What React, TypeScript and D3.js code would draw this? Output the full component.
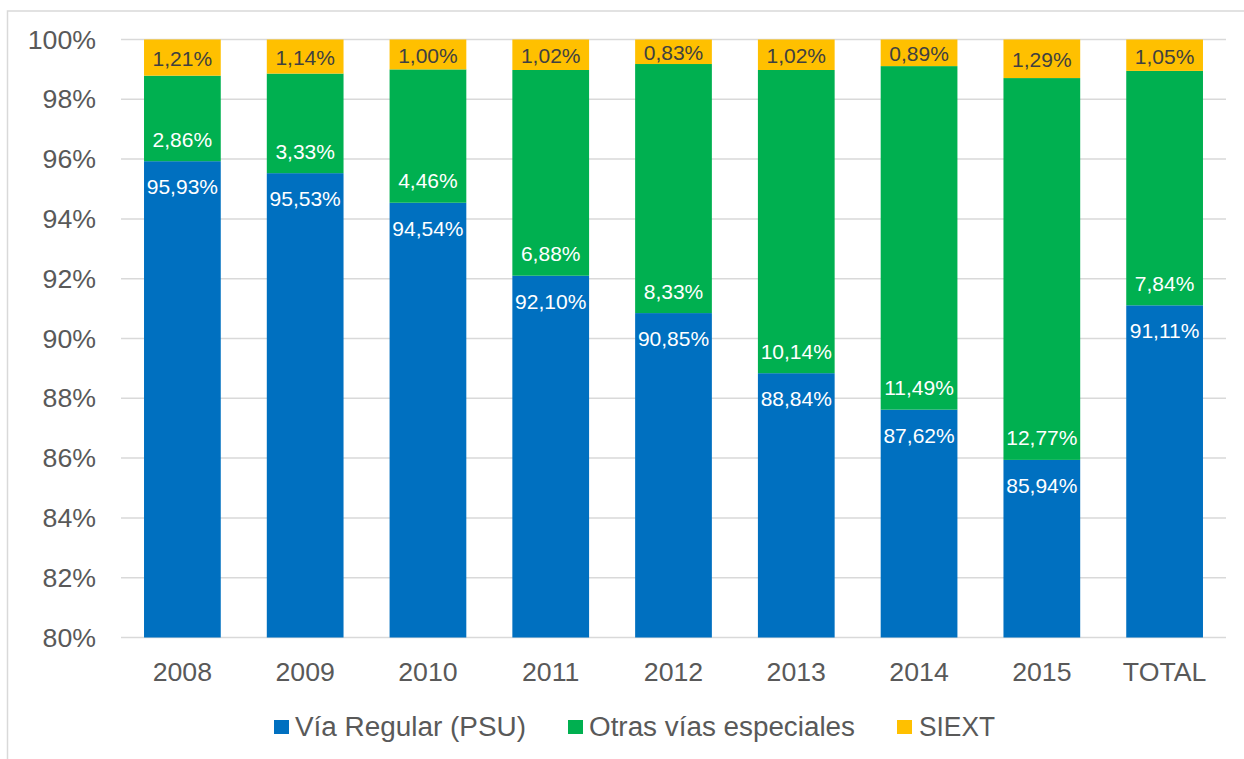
import React from "react";
import * as d3 from "d3";

const categories = ["2008", "2009", "2010", "2011", "2012", "2013", "2014", "2015", "TOTAL"];
const viaRegular = [95.93, 95.53, 94.54, 92.10, 90.85, 88.84, 87.62, 85.94, 91.11];
const otrasVias = [2.86, 3.33, 4.46, 6.88, 8.33, 10.14, 11.49, 12.77, 7.84];
const siext = [1.21, 1.14, 1.00, 1.02, 0.83, 1.02, 0.89, 1.29, 1.05];
const yTicks = [80, 82, 84, 86, 88, 90, 92, 94, 96, 98, 100];
const seriesNames = ["Vía Regular (PSU)", "Otras vías especiales", "SIEXT"];
const seriesColors = ["#0070C0", "#00B050", "#FFC000"];

const W = 1244;
const H = 759;
const FONT = "'Liberation Sans', Arial, sans-serif";
const fmt = (v: number) => v.toFixed(2).replace(".", ",") + "%";

export default function App() {
  const x = d3.scaleBand<string>().domain(categories).range([121, 1226]).paddingInner(0.375).paddingOuter(0.1875);
  const y = d3.scaleLinear().domain([80, 100]).range([637.5, 39.5]);
  const bw = x.bandwidth();

  const legendItems = [
    { sq: 274, tx: 295, w: 231 },
    { sq: 568, tx: 589, w: 266 },
    { sq: 897, tx: 919, w: 76 },
  ];

  return (
    <svg width={W} height={H} style={{ position: "absolute", left: 0, top: 0, background: "#fff" }} fontFamily={FONT}>
      <rect x={7.5} y={11} width={W + 20} height={H + 20} fill="#fff" stroke="#d9d9d9" strokeWidth={1.5} />
      {yTicks.map((t) => (
        <g key={t}>
          <line x1={121} x2={1226} y1={y(t)} y2={y(t)} stroke="#d9d9d9" strokeWidth={1.5} />
          <text x={96} y={y(t)} textAnchor="end" dominantBaseline="central" fontSize={26.7} fill="#595959">
            {t}%
          </text>
        </g>
      ))}
      {categories.map((c, i) => {
        const x0 = x(c)!;
        const cx = x0 + bw / 2;
        const blueTop = viaRegular[i];
        const greenTop = viaRegular[i] + otrasVias[i];
        const yellowTop = greenTop + siext[i];
        return (
          <g key={c}>
            <rect x={x0} y={y(blueTop)} width={bw} height={y(80) - y(blueTop)} fill={seriesColors[0]} />
            <rect x={x0} y={y(greenTop)} width={bw} height={y(blueTop) - y(greenTop)} fill={seriesColors[1]} />
            <rect x={x0} y={y(Math.min(yellowTop, 100))} width={bw} height={y(greenTop) - y(Math.min(yellowTop, 100))} fill={seriesColors[2]} />
            <text x={cx} y={y(blueTop) + 25.5} textAnchor="middle" dominantBaseline="central" fontSize={21} fill="#fff">
              {fmt(viaRegular[i])}
            </text>
            <text x={cx} y={y(blueTop) - 22} textAnchor="middle" dominantBaseline="central" fontSize={21} fill="#fff">
              {fmt(otrasVias[i])}
            </text>
            <text x={cx} y={(y(greenTop) + y(100)) / 2 + 1} textAnchor="middle" dominantBaseline="central" fontSize={21} fill="#404040">
              {fmt(siext[i])}
            </text>
            <text x={cx} y={681} textAnchor="middle" fontSize={26.7} fill="#595959">
              {c}
            </text>
          </g>
        );
      })}
      {seriesNames.map((n, i) => (
        <g key={n}>
          <rect x={legendItems[i].sq} y={720} width={15} height={14} fill={seriesColors[i]} />
          <text x={legendItems[i].tx} y={736} fontSize={27} fill="#595959" textLength={legendItems[i].w} lengthAdjust="spacingAndGlyphs">
            {n}
          </text>
        </g>
      ))}
    </svg>
  );
}
